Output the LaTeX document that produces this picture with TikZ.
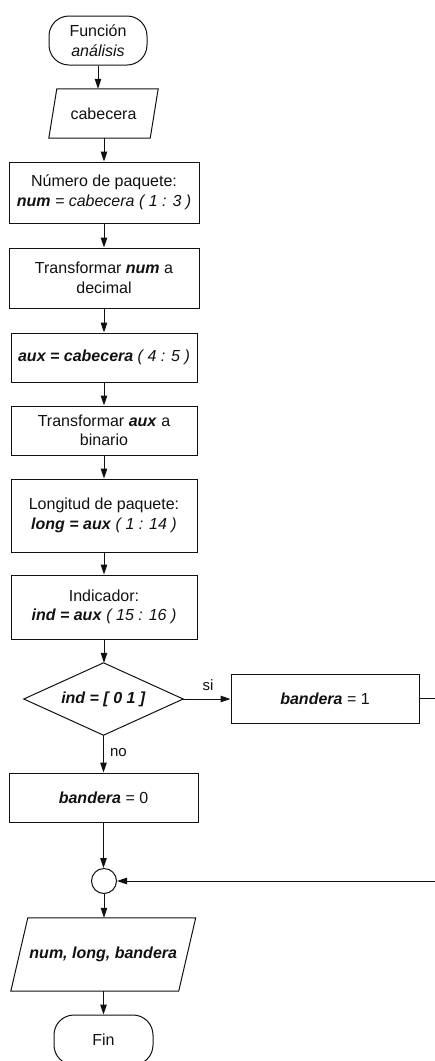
\documentclass[tikz,border=0pt]{standalone}
\usepackage{fontspec}
\setmainfont{Liberation Sans}
\usetikzlibrary{arrows.meta}
\definecolor{ink}{HTML}{111111}
\newcommand{\bivar}[1]{\textbf{\textit{#1}}}
\tikzset{
  txt/.style={inner sep=0pt, align=center, text=ink,
              font=\fontsize{16}{19.5}\selectfont},
  procbox/.style={txt, draw=ink, line width=1pt, rectangle},
  termbox/.style={procbox, rounded corners=20pt},
  ghost/.style={txt, rectangle},
  shapeline/.style={draw=ink, line width=1pt},
  arr/.style={draw=ink, line width=1pt, -{Triangle[length=10pt,width=6.5pt]}},
  lbl/.style={inner sep=0pt, text=ink, font=\fontsize{15}{18}\selectfont}
}
\begin{document}
\begin{tikzpicture}[x=1pt,y=-1pt]
\useasboundingbox (0,0) rectangle (435,1061);

% start
\node[termbox, minimum width=98pt, minimum height=49pt] (ini) at (98,40.5)
  {Función\\\textit{análisis}};

% input: header
\node[ghost, minimum width=101pt, minimum height=49pt] (cab) at (103.5,113.5) {cabecera};
\draw[shapeline] ([xshift=4pt]cab.north west) -- ([xshift=4pt]cab.north east)
  -- ([xshift=-4pt]cab.south east) -- ([xshift=-4pt]cab.south west) -- cycle;

% processing steps
\node[procbox, minimum width=190pt, minimum height=61pt] (p1) at (104,192.5)
  {Número de paquete:\\\bivar{num} \textit{= cabecera ( 1 : 3 )}};
\node[procbox, minimum width=190pt, minimum height=60pt] (p2) at (104,278)
  {Transformar \bivar{num} a\\decimal};
\node[procbox, minimum width=186pt, minimum height=49pt] (p3) at (104,357.5)
  {\bivar{aux = cabecera} \textit{( 4 : 5 )}};
\node[procbox, minimum width=186pt, minimum height=49pt] (p4) at (104,430.5)
  {Transformar \bivar{aux} a\\binario};
\node[procbox, minimum width=186pt, minimum height=73pt] (p5) at (104,515.5)
  {Longitud de paquete:\\\bivar{long = aux} \textit{( 1 : 14 )}};
\node[procbox, minimum width=186pt, minimum height=64pt] (p6) at (104,607)
  {Indicador:\\\bivar{ind = aux} \textit{( 15 : 16 )}};

% decision
\node[ghost, minimum width=159pt, minimum height=72pt] (dec) at (103.5,699)
  {\bivar{ind = [ 0 1 ]}};
\draw[shapeline] (dec.north) -- (dec.east) -- (dec.south) -- (dec.west) -- cycle;

\node[procbox, minimum width=188pt, minimum height=49pt] (yes) at (325,698.5)
  {\bivar{bandera} = 1};
\node[procbox, minimum width=189pt, minimum height=49pt] (no) at (103.5,797.5)
  {\bivar{bandera} = 0};

% junction
\node[circle, draw=ink, line width=1pt, minimum size=25pt, inner sep=0pt] (join) at (104,881) {};

% output
\node[ghost, minimum width=167.5pt, minimum height=73pt] (out) at (103.25,954.5)
  {\bivar{num, long, bandera}};
\draw[shapeline] ([xshift=8.5pt]out.north west) -- ([xshift=8.5pt]out.north east)
  -- ([xshift=-8.5pt]out.south east) -- ([xshift=-8.5pt]out.south west) -- cycle;

% end
\node[termbox, minimum width=99pt, minimum height=50pt] (fin) at (103.5,1040) {Fin};

% connectors
\draw[arr] (ini.south) -- (ini.south |- cab.north);
\draw[arr] (cab.south -| p1.north) -- (p1.north);
\draw[arr] (p1) -- (p2);
\draw[arr] (p2) -- (p3);
\draw[arr] (p3) -- (p4);
\draw[arr] (p4) -- (p5);
\draw[arr] (p5) -- (p6);
\draw[arr] (p6.south) -- (p6.south |- dec.north);
\draw[arr] (dec.east) -- (dec.east -| yes.west);
\draw[arr] (dec.south) -- (dec.south |- no.north);
\draw[arr] (no.south) -- (no.south |- join.north);
\draw[arr] (yes.east) -- ++(21,0) |- (join.east);
\draw[arr] (join.south) -- (join.south |- out.north);
\draw[arr] (out.south -| fin.north) -- (fin.north);

% branch labels
\node[lbl] (si) at (208,685) {si};
\node[lbl] (nolbl) at (118.5,753) {no};
\end{tikzpicture}
\end{document}
